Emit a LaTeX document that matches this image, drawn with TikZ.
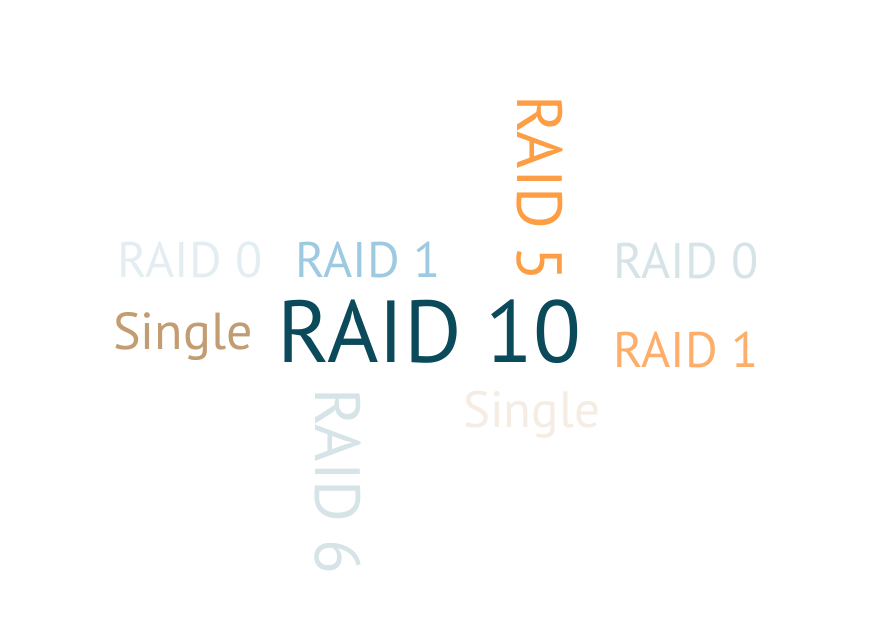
\documentclass[tikz,border=0pt]{standalone}
\usepackage{fontspec}
\setmainfont{PT Sans}
\usepackage{tikz}

\definecolor{raidten}{HTML}{0B4A5B}
\definecolor{raidfive}{HTML}{FD9E45}
\definecolor{raidoneblue}{HTML}{9ECAE1}
\definecolor{raidoneorange}{HTML}{FDAE6B}
\definecolor{raidzeroleft}{HTML}{E4EEF2}
\definecolor{raidzeroright}{HTML}{D6E4E8}
\definecolor{raidsix}{HTML}{D6E3E7}
\definecolor{singlebrown}{HTML}{C29D73}
\definecolor{singlelight}{HTML}{F5ECE4}

\tikzset{word/.style={inner sep=0pt, anchor=base west}}

\begin{document}
\begin{tikzpicture}[x=1pt, y=-1pt]
        \useasboundingbox (0,0) rectangle (870,616);

        \node[word, text=raidten, font=\fontsize{88}{88}\selectfont] (ten) at (277,362) {RAID 10};
        \node[word, text=singlebrown, font=\fontsize{52}{52}\selectfont] (single) at (113,349) {Single};
        \node[word, text=raidzeroleft, font=\fontsize{50}{50}\selectfont] (zeroa) at (117,277) {RAID 0};
        \node[word, text=raidoneblue, font=\fontsize{50}{50}\selectfont] (onea) at (295,277) {RAID 1};
        \node[word, text=raidfive, font=\fontsize{64}{64}\selectfont, rotate=-90] (five) at (517,95) {RAID 5};
        \node[word, text=raidzeroright, font=\fontsize{50}{50}\selectfont] (zerob) at (613,278) {RAID 0};
        \node[word, text=raidoneorange, font=\fontsize{50}{50}\selectfont] (oneb) at (613,367) {RAID 1};
        \node[word, text=singlelight, font=\fontsize{51}{51}\selectfont] (singleb) at (463,427) {Single};
        \node[word, text=raidsix, font=\fontsize{64}{64}\selectfont, rotate=-90] (six) at (315,388) {RAID 6};
    \end{tikzpicture}
\end{document}
